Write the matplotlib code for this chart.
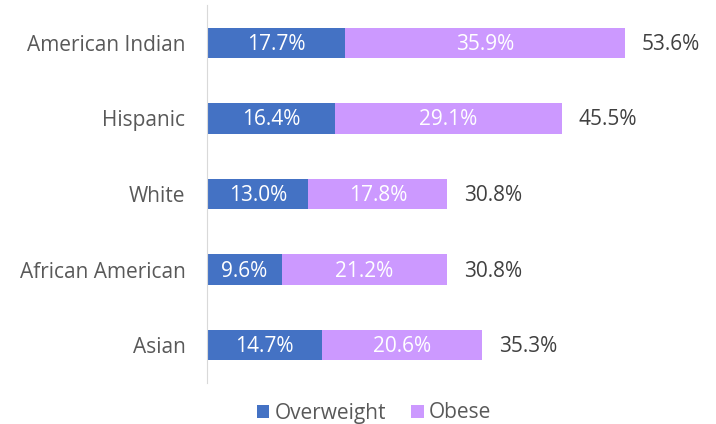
import matplotlib.pyplot as plt
import numpy as np

plt.rcParams["font.family"] = ["Open Sans", "DejaVu Sans"]

groups = ["American Indian", "Hispanic", "White", "African American", "Asian"]
overweight = [17.7, 16.4, 13.0, 9.6, 14.7]
obese = [35.9, 29.1, 17.8, 21.2, 20.6]
totals = [53.6, 45.5, 30.8, 30.8, 35.3]

BLUE = "#4472C4"
PURPLE = "#CC99FF"
FS = 15


def main():
    fig = plt.figure(figsize=(7.16, 4.24), dpi=100)
    ax = fig.add_axes([207 / 716, 41 / 424, 468 / 716, 378 / 424])

    y = np.arange(len(groups))[::-1]
    h = 0.4
    b1 = ax.barh(y, overweight, height=h, color=BLUE, label="Overweight")
    b2 = ax.barh(y, obese, left=overweight, height=h, color=PURPLE, label="Obese")

    for bars, vals in [(b1, overweight), (b2, obese)]:
        for rect, v in zip(bars, vals):
            ax.text(rect.get_x() + rect.get_width() / 2, rect.get_y() + h / 2 - 0.02,
                    f"{v:.1f}%", ha="center", va="center", color="white", fontsize=FS)

    for yi, t in zip(y, totals):
        ax.annotate(f"{t:.1f}%", (t, yi - 0.02), xytext=(12, 0), textcoords="offset points",
                    ha="left", va="center", color="#404040", fontsize=FS)

    ax.set_xlim(0, 60)
    ax.set_ylim(-0.5, 4.5)
    ax.set_xticks([])
    ax.set_yticks(y, labels=groups)
    ax.tick_params(axis="y", length=0, pad=15.5, labelsize=FS, labelcolor="#595959")
    for s in ["top", "right", "bottom"]:
        ax.spines[s].set_visible(False)
    ax.spines["left"].set_color("#D9D9D9")

    fig.legend(loc="center", bbox_to_anchor=(374 / 716, 11 / 424), ncol=2, frameon=False,
               fontsize=FS, handlelength=0.6, handleheight=0.6, handletextpad=0.25,
               columnspacing=1.2, labelcolor="#595959")

    fig.savefig("out.png", dpi=100)


if __name__ == "__main__":
    main()
